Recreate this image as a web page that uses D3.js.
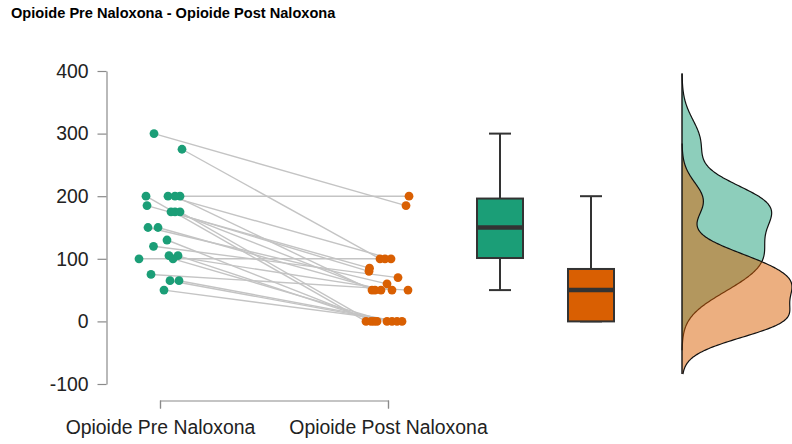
<!DOCTYPE html>
<html>
<head>
<meta charset="utf-8">
<script src="https://cdn.jsdelivr.net/npm/d3@7"></script>
<style>
  html, body { margin: 0; padding: 0; background: #fff; }
  svg { display: block; font-family: "Liberation Sans", Arial, sans-serif; }
</style>
</head>
<body>
<svg id="chart" width="792" height="444"></svg>
<script>
// ---------- data ----------
const title = "Opioide Pre Naloxona - Opioide Post Naloxona";
const categories = ["Opioide Pre Naloxona", "Opioide Post Naloxona"];
const preValues  = [300, 275, 200, 200, 200, 200, 185, 175, 175, 175, 150, 150, 130, 120, 105, 105, 100, 100, 75, 65, 65, 50];
const postValues = [185, 100, 200, 100, 50, 0, 85, 80, 50, 0, 60, 50, 0, 70, 50, 0, 100, 0, 50, 0, 0, 0];
// horizontal jitter of each point, as a fraction of the jitter half-width
const jitterPre  = [-0.24, 0.88, 0.80, 0.32, 0.60, -0.56, -0.52, 0.44, 0.60, 0.80, -0.48, -0.08, 0.28, -0.26, 0.36, 0.72, -0.84, 0.52, -0.36, 0.40, 0.76, 0.16];
const jitterPost = [0.72, -0.32, 0.84, 0.12, -0.64, -0.88, -0.74, -0.76, -0.52, -0.68, -0.04, -0.28, -0.56, 0.40, 0.16, -0.44, -0.12, -0.04, 0.80, 0.16, 0.36, 0.56];
const yTicks = [-100, 0, 100, 200, 300, 400];
const colors = ["#1b9e77", "#d95f02"];

// ---------- layout ----------
const svg = d3.select("#chart");
const fontSize = 19.4;

const y = d3.scaleLinear().domain([-100, 400]).range([384, 71]);
const x = d3.scalePoint().domain(categories).range([160, 388]);
const xBox = d3.scalePoint().domain(categories).range([500, 591]);
const jitterWidth = 25;

const series = [preValues, postValues];

// title
svg.append("text")
  .attr("x", 11).attr("y", 18)
  .attr("font-size", 14.6).attr("font-weight", "bold").attr("fill", "#000")
  .text(title);

// y axis
const yAxis = svg.append("g")
  .attr("transform", "translate(106.5,0)")
  .call(d3.axisLeft(y).tickValues(yTicks).tickSizeInner(9).tickSizeOuter(0).tickPadding(9).tickFormat(d => String(d)));
yAxis.select(".domain").attr("stroke", "#8a8a8a").attr("stroke-width", 1.2);
yAxis.selectAll(".tick line").attr("stroke", "#8a8a8a").attr("stroke-width", 1.2);
yAxis.selectAll(".tick text").attr("font-size", fontSize).attr("fill", "#222")
  .attr("font-family", "Liberation Sans, Arial, sans-serif");

// x axis
const xAxis = svg.append("g")
  .attr("transform", "translate(0,400.5)")
  .call(d3.axisBottom(x).tickSizeInner(8).tickSizeOuter(8).tickPadding(8));
xAxis.select(".domain").attr("stroke", "#8a8a8a").attr("stroke-width", 1.2);
xAxis.selectAll(".tick line").attr("stroke", "#8a8a8a").attr("stroke-width", 1.2);
xAxis.selectAll(".tick text").attr("font-size", fontSize).attr("fill", "#222")
  .attr("font-family", "Liberation Sans, Arial, sans-serif")
  .attr("y", 33).attr("dy", 0);

// paired lines
const pairs = preValues.map((v, i) => ({
  x1: x(categories[0]) + jitterPre[i] * jitterWidth, y1: y(v),
  x2: x(categories[1]) + jitterPost[i] * jitterWidth, y2: y(postValues[i])
}));
svg.append("g").selectAll("line").data(pairs).join("line")
  .attr("x1", d => d.x1).attr("y1", d => d.y1)
  .attr("x2", d => d.x2).attr("y2", d => d.y2)
  .attr("stroke", "#c4c4c4").attr("stroke-width", 1.4);

// points
series.forEach((vals, s) => {
  const jit = s === 0 ? jitterPre : jitterPost;
  svg.append("g").selectAll("circle").data(vals).join("circle")
    .attr("cx", (d, i) => x(categories[s]) + jit[i] * jitterWidth)
    .attr("cy", d => y(d))
    .attr("r", 4.4)
    .attr("fill", colors[s]);
});

// box plots
const boxW = 46, capW = 22;
series.forEach((vals, s) => {
  const sorted = vals.slice().sort(d3.ascending);
  const q1 = d3.quantile(sorted, 0.25), med = d3.quantile(sorted, 0.5), q3 = d3.quantile(sorted, 0.75);
  const iqr = q3 - q1;
  const lo = d3.min(sorted.filter(v => v >= q1 - 1.5 * iqr));
  const hi = d3.max(sorted.filter(v => v <= q3 + 1.5 * iqr));
  const cx = xBox(categories[s]);
  const g = svg.append("g").attr("stroke", "#333");
  g.append("line").attr("x1", cx).attr("x2", cx).attr("y1", y(hi)).attr("y2", y(q3)).attr("stroke-width", 2);
  g.append("line").attr("x1", cx).attr("x2", cx).attr("y1", y(q1)).attr("y2", y(lo)).attr("stroke-width", 2);
  g.append("line").attr("x1", cx - capW / 2).attr("x2", cx + capW / 2).attr("y1", y(hi)).attr("y2", y(hi)).attr("stroke-width", 2);
  g.append("line").attr("x1", cx - capW / 2).attr("x2", cx + capW / 2).attr("y1", y(lo)).attr("y2", y(lo)).attr("stroke-width", 2);
  g.append("rect").attr("x", cx - boxW / 2).attr("width", boxW)
    .attr("y", y(q3)).attr("height", y(q1) - y(q3))
    .attr("fill", colors[s]).attr("stroke-width", 2);
  g.append("line").attr("x1", cx - boxW / 2).attr("x2", cx + boxW / 2).attr("y1", y(med)).attr("y2", y(med)).attr("stroke-width", 4.5);
});

// half-violin densities
function bwNrd0(v) {
  const s = v.slice().sort(d3.ascending);
  const sd = d3.deviation(s);
  const iqr = d3.quantile(s, 0.75) - d3.quantile(s, 0.25);
  return 0.9 * Math.min(sd, iqr / 1.34) * Math.pow(s.length, -0.2);
}
function kde(v) {
  const bw = bwNrd0(v);
  const lo = d3.min(v) - 3 * bw, hi = d3.max(v) + 3 * bw;
  const n = 256;
  const pts = [];
  for (let i = 0; i < n; i++) {
    const t = lo + (hi - lo) * i / (n - 1);
    let sum = 0;
    for (const xi of v) { const z = (t - xi) / bw; sum += Math.exp(-0.5 * z * z); }
    pts.push([t, sum / (v.length * bw * Math.sqrt(2 * Math.PI))]);
  }
  return pts;
}
const dens = series.map(kde);
const maxD = d3.max(dens, d => d3.max(d, p => p[1]));
const baseX = 682;
const w = d3.scaleLinear().domain([0, maxD]).range([baseX, baseX + 110]);
const area = d3.area().curve(d3.curveBasis)
  .y(p => y(p[0])).x0(baseX).x1(p => w(p[1]));
const outline = d3.line().curve(d3.curveBasis)
  .y(p => y(p[0])).x(p => w(p[1]));
dens.forEach((d, s) => {
  svg.append("path").datum(d).attr("d", area)
    .attr("fill", colors[s]).attr("fill-opacity", 0.5).attr("stroke", "none");
  svg.append("path").datum(d).attr("d", outline)
    .attr("fill", "none").attr("stroke", "#111").attr("stroke-width", 1.2);
});
const allDomain = [d3.min(dens, d => d[0][0]), d3.max(dens, d => d[d.length - 1][0])];
svg.append("line").attr("x1", baseX).attr("x2", baseX)
  .attr("y1", y(allDomain[1])).attr("y2", y(allDomain[0]))
  .attr("stroke", "#111").attr("stroke-width", 1.4);
</script>
</body>
</html>
